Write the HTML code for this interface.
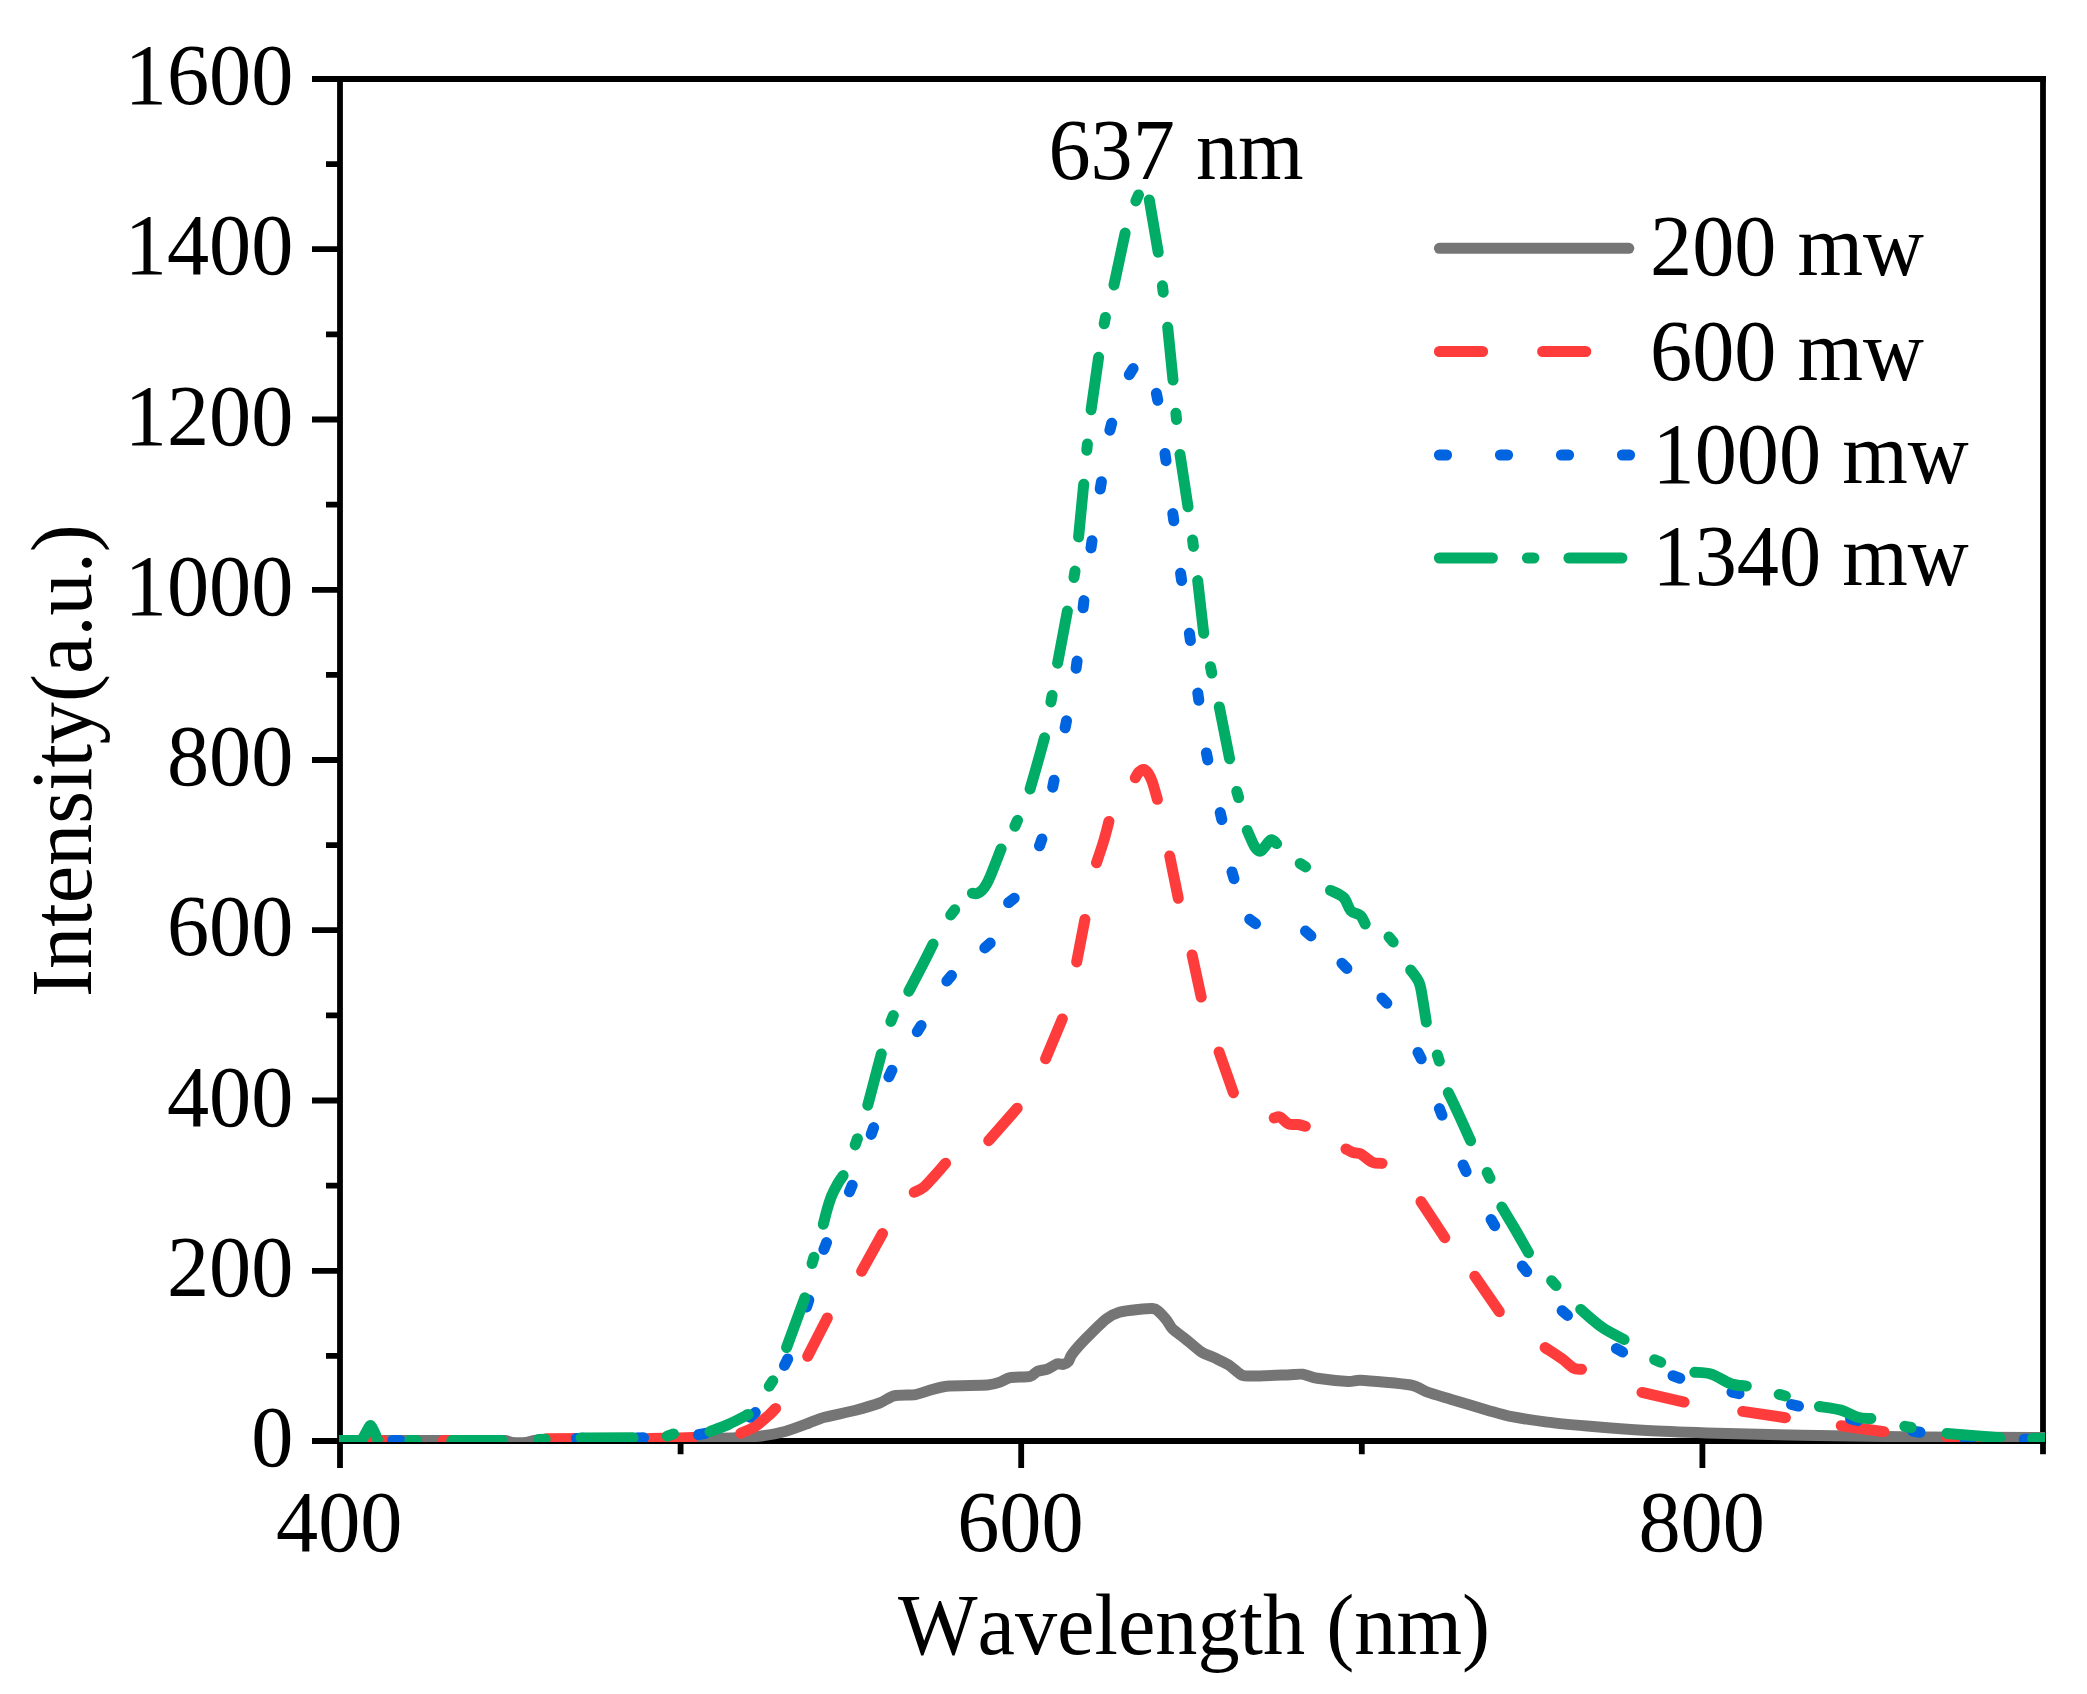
<!DOCTYPE html>
<html lang="en"><head><meta charset="utf-8"><title>PL spectra</title>
<style>html,body{margin:0;padding:0;background:#fff;overflow:hidden}svg{display:block}text{font-family:"Liberation Serif","Times New Roman",serif;font-size:84.30px;fill:#000;font-kerning:none;font-variant-ligatures:none}</style></head><body>
<svg width="2087" height="1694" viewBox="0 0 2087 1694">
<rect width="2087" height="1694" fill="#fff"/>
<defs><clipPath id="plot"><rect x="339" y="70" width="1706" height="1372"/></clipPath></defs>
<g stroke="#000" stroke-width="5.8" fill="none" stroke-linecap="butt">
<path d="M312.0 79.0 H2045.9"/>
<path d="M312.0 1441.0 H2045.9"/>
<path d="M340.0 76.1 V1468.0"/>
<path d="M2043.0 76.1 V1454.3"/>
<path d="M326.0 1355.9 H340.0 M312.0 1270.8 H340.0 M326.0 1185.6 H340.0 M312.0 1100.5 H340.0 M326.0 1015.4 H340.0 M312.0 930.2 H340.0 M326.0 845.1 H340.0 M312.0 760.0 H340.0 M326.0 674.9 H340.0 M312.0 589.8 H340.0 M326.0 504.6 H340.0 M312.0 419.5 H340.0 M326.0 334.4 H340.0 M312.0 249.2 H340.0 M326.0 164.1 H340.0 M680.6 1441.0 V1454.3 M1021.2 1441.0 V1468.0 M1361.8 1441.0 V1454.3 M1702.4 1441.0 V1468.0"/>
</g>
<g clip-path="url(#plot)" fill="none" stroke-width="11.0" stroke-linecap="round" stroke-linejoin="round">
<path stroke="#757575" d="M334.0 1440.6 C353.9 1440.6 484.2 1440.4 505.0 1440.6 C507.9 1440.6 509.6 1442.3 512.0 1442.5 C514.5 1442.7 523.4 1442.7 526.0 1442.5 C528.6 1442.3 531.4 1440.8 534.0 1440.5 C536.6 1440.2 542.4 1439.7 548.0 1439.6 C555.7 1439.4 582.3 1439.3 600.0 1439.2 C617.7 1439.1 686.0 1438.7 700.0 1438.6 C708.0 1438.5 715.3 1438.3 720.0 1438.2 C724.7 1438.1 735.2 1437.8 740.0 1437.5 C744.8 1437.2 755.8 1436.7 761.0 1436.0 C766.2 1435.3 779.4 1433.0 785.0 1431.5 C790.6 1430.0 804.4 1424.7 809.0 1423.0 C813.6 1421.3 819.1 1418.8 824.5 1417.3 C829.9 1415.8 849.2 1411.9 855.6 1410.2 C862.0 1408.5 875.1 1404.7 879.6 1403.0 C884.1 1401.3 889.8 1396.8 894.0 1395.8 C898.2 1394.8 911.6 1395.2 915.5 1394.6 C919.4 1394.0 923.9 1392.0 927.5 1391.0 C931.1 1390.0 939.7 1386.9 946.7 1386.2 C953.7 1385.5 981.2 1385.5 987.4 1385.0 C992.6 1384.6 997.4 1383.0 1000.0 1382.1 C1002.6 1381.2 1006.6 1378.4 1010.1 1377.7 C1013.6 1377.0 1027.0 1377.0 1030.2 1376.3 C1033.4 1375.6 1035.4 1372.1 1037.4 1371.3 C1039.4 1370.5 1045.1 1370.0 1047.4 1369.1 C1049.7 1368.2 1055.7 1364.3 1057.5 1363.8 C1059.3 1363.3 1061.9 1364.7 1063.2 1364.4 C1064.5 1364.1 1067.5 1362.7 1068.5 1361.5 C1069.5 1360.3 1070.0 1356.8 1071.9 1354.3 C1074.0 1351.6 1082.2 1342.3 1086.2 1338.2 C1090.2 1334.1 1102.5 1321.8 1106.4 1318.8 C1110.3 1315.8 1115.6 1313.4 1119.3 1312.3 C1123.0 1311.2 1134.1 1309.9 1138.0 1309.5 C1141.9 1309.1 1150.1 1308.3 1152.4 1308.5 C1154.7 1308.7 1156.4 1309.5 1158.1 1310.9 C1159.8 1312.3 1165.0 1318.1 1166.7 1320.2 C1168.4 1322.3 1170.3 1326.7 1172.5 1328.9 C1174.7 1331.1 1182.1 1336.2 1185.4 1338.9 C1188.7 1341.6 1197.7 1349.6 1201.2 1351.9 C1204.7 1354.2 1212.4 1356.8 1215.6 1358.3 C1218.8 1359.8 1225.6 1362.9 1228.6 1364.8 C1231.6 1366.7 1238.7 1373.6 1241.5 1374.9 C1244.3 1376.2 1248.4 1376.0 1253.0 1376.0 C1258.4 1376.0 1281.7 1375.1 1287.5 1374.9 C1293.3 1374.7 1299.4 1373.8 1302.9 1374.2 C1306.4 1374.6 1312.0 1377.5 1317.3 1378.3 C1322.6 1379.1 1343.4 1381.2 1348.4 1381.4 C1353.2 1381.6 1355.6 1379.9 1360.4 1380.2 C1367.7 1380.6 1402.9 1383.6 1410.7 1385.0 C1417.9 1386.3 1422.8 1390.5 1427.5 1392.2 C1432.2 1393.9 1444.4 1397.3 1451.4 1399.4 C1458.4 1401.5 1480.7 1408.3 1487.4 1410.2 C1494.1 1412.1 1502.0 1414.7 1509.0 1416.1 C1516.0 1417.5 1538.2 1420.9 1547.3 1422.1 C1556.4 1423.3 1575.4 1425.0 1587.0 1426.0 C1598.6 1427.0 1632.9 1429.7 1646.9 1430.5 C1660.9 1431.3 1688.6 1432.3 1706.8 1432.9 C1725.0 1433.5 1777.4 1434.8 1802.6 1435.3 C1827.8 1435.8 1893.5 1436.6 1922.4 1436.9 C1951.3 1437.2 2035.1 1437.5 2050.0 1437.6"/>
<path stroke="#FF3C3C" d="M340.0 1440.5 L383.2 1440.5 M443.2 1440.5 L486.4 1440.5 M546.4 1438.8 L589.6 1438.6 M649.6 1438.6 C653.0 1438.5 662.8 1438.4 670.0 1438.2 C677.2 1438.0 689.0 1437.5 692.8 1437.4 M740.8 1433.2 C743.1 1432.1 750.5 1429.4 755.0 1426.5 C759.5 1423.6 764.6 1419.0 768.0 1416.0 C771.2 1413.2 774.3 1409.7 775.6 1408.4 M807.7 1356.3 L827.3 1317.9 M861.6 1271.3 L882.5 1233.5 M914.2 1192.2 C915.8 1191.3 920.7 1190.0 924.0 1187.0 C929.2 1182.2 942.0 1167.2 945.6 1163.3 M988.7 1140.7 L1017.2 1108.2 M1045.6 1058.8 L1062.3 1018.9 M1076.7 961.9 L1084.9 919.4 M1096.5 862.8 C1097.6 859.3 1101.3 848.9 1103.4 842.0 C1105.5 835.1 1108.0 824.9 1108.9 821.4 M1135.3 777.8 C1135.9 776.8 1137.6 773.4 1139.0 772.0 C1140.4 770.6 1142.2 769.2 1143.7 769.4 C1145.2 769.6 1146.7 771.2 1148.0 773.0 C1149.4 775.0 1150.8 777.9 1152.1 781.4 C1153.7 785.8 1156.5 796.3 1157.4 799.3 M1169.7 856.0 L1178.3 898.3 M1192.1 954.9 L1201.2 997.1 M1219.1 1052.0 L1233.4 1092.7 M1274.2 1117.9 C1275.2 1117.8 1277.8 1116.1 1280.0 1117.0 C1282.4 1118.0 1285.5 1122.7 1288.5 1123.9 C1291.5 1125.2 1295.2 1124.1 1298.0 1124.5 C1300.8 1124.9 1304.1 1126.0 1305.3 1126.3 M1346.0 1149.0 C1347.2 1149.6 1350.6 1151.7 1353.0 1152.5 C1355.4 1153.3 1357.7 1152.5 1360.4 1153.8 C1363.6 1155.4 1368.8 1160.6 1372.4 1162.2 C1375.9 1163.8 1380.4 1163.2 1382.0 1163.4 M1421.0 1201.6 L1444.8 1237.7 M1474.8 1276.2 L1499.3 1311.7 M1545.1 1347.6 C1547.9 1349.5 1556.9 1355.2 1561.7 1358.6 C1566.5 1362.0 1570.3 1366.4 1573.6 1368.2 C1576.4 1369.7 1580.2 1369.0 1581.5 1369.2 M1642.0 1392.4 L1684.1 1402.1 M1742.7 1411.4 L1785.4 1417.7 M1841.2 1425.7 L1883.9 1431.7 M1946.7 1436.7 L1989.9 1438.8"/>
<path stroke="#0064E1" d="M339.9 1440.5 L347.1 1440.5 M392.9 1440.5 L400.1 1440.5 M453.4 1440.5 L460.6 1440.5 M576.4 1438.4 L583.6 1438.2 M636.4 1437.9 L643.6 1437.7 M698.5 1434.7 L705.5 1433.3 M749.9 1417.2 L755.3 1412.6 M784.5 1365.4 L787.7 1359.0 M806.6 1306.9 L808.8 1300.1 M823.9 1249.4 L826.5 1242.6 M849.4 1191.8 L852.2 1185.2 M871.2 1134.4 L873.6 1127.6 M888.9 1076.8 L891.9 1070.2 M917.3 1031.7 L921.1 1025.5 M946.9 981.1 L951.5 975.5 M984.8 947.9 L990.2 943.1 M1008.6 902.6 L1014.2 898.2 M1039.5 845.8 L1041.9 839.0 M1052.7 787.2 L1054.1 780.2 M1065.1 727.8 L1066.5 720.8 M1076.1 668.3 L1077.1 661.1 M1083.1 607.8 L1083.9 600.6 M1091.0 547.9 L1092.0 540.7 M1100.2 489.0 L1101.4 481.8 M1109.9 430.2 L1111.7 423.2 M1129.3 374.7 L1133.1 368.5 M1156.4 393.3 L1157.8 400.3 M1165.0 453.5 L1166.0 460.7 M1172.8 513.6 L1173.8 520.8 M1180.6 573.3 L1181.6 580.5 M1189.4 633.3 L1190.4 640.5 M1197.8 693.1 L1198.8 700.3 M1206.4 752.9 L1207.8 759.9 M1220.2 812.6 L1221.8 819.6 M1232.0 871.9 L1234.0 878.7 M1249.7 919.3 L1255.5 923.7 M1305.5 931.1 L1310.9 935.9 M1341.9 963.2 L1346.9 968.4 M1381.9 998.0 L1386.9 1003.2 M1418.0 1052.4 L1421.2 1058.8 M1439.4 1108.6 L1442.0 1115.2 M1463.1 1164.9 L1466.1 1171.5 M1491.1 1219.5 L1494.7 1225.7 M1522.3 1266.0 L1526.7 1271.6 M1562.1 1310.8 L1567.5 1315.4 M1616.4 1348.5 L1622.6 1352.1 M1673.0 1375.8 L1679.8 1378.2 M1732.0 1392.1 L1739.0 1393.7 M1791.5 1404.5 L1798.5 1406.1 M1850.6 1418.9 L1857.6 1420.5 M1912.8 1431.1 L1920.0 1432.3 M1964.4 1437.8 L1971.6 1438.2 M2024.2 1439.2 L2031.4 1439.4"/>
<path stroke="#00AC66" d="M334.0 1440.5 C337.9 1440.5 352.8 1440.7 357.5 1440.5 C359.4 1440.4 360.6 1440.6 362.0 1439.3 C363.4 1437.9 365.0 1434.3 366.2 1432.3 C367.4 1430.3 368.3 1428.3 369.0 1427.2 C369.5 1426.5 369.9 1425.6 370.4 1425.6 C370.9 1425.6 371.4 1426.5 371.8 1427.2 C372.5 1428.3 373.5 1430.3 374.4 1432.3 C375.3 1434.3 376.9 1438.1 377.4 1439.3 M409.8 1440.4 L416.2 1440.6 M451.8 1440.6 L502.3 1440.6 M538.8 1439.5 L545.2 1439.3 M581.1 1437.9 L633.1 1437.7 M667.3 1436.1 L673.5 1433.9 M710.0 1431.5 C713.0 1430.3 721.7 1427.4 728.0 1424.6 C734.3 1421.8 744.7 1416.2 748.0 1414.5 M769.2 1386.2 L772.8 1380.8 M786.6 1347.5 L804.8 1297.8 M812.1 1263.5 L813.9 1257.3 M823.3 1224.3 C824.0 1221.9 825.6 1214.8 827.0 1210.0 C828.4 1205.2 829.9 1200.1 831.7 1195.7 C833.5 1191.3 835.8 1187.1 837.7 1183.7 C839.6 1180.3 842.2 1176.9 843.1 1175.6 M855.2 1144.9 L857.4 1138.7 M867.8 1105.2 L881.3 1053.9 M890.9 1021.5 L893.3 1015.5 M908.8 991.2 C911.0 987.0 918.1 973.7 922.1 965.8 C926.1 957.9 931.2 947.7 933.0 944.1 M950.7 915.0 L954.7 909.8 M972.4 893.2 C973.2 893.2 975.6 894.0 977.2 893.5 C978.8 893.0 980.5 891.9 982.0 890.4 C983.5 888.9 984.9 886.8 986.3 884.4 C987.7 882.0 989.0 879.5 990.4 876.0 C992.9 870.1 999.3 853.4 1001.1 848.9 M1014.9 826.3 L1017.5 820.3 M1030.1 788.9 C1031.3 784.8 1034.7 773.1 1037.1 764.6 C1039.5 756.1 1043.2 742.3 1044.5 737.8 M1050.9 701.9 L1052.1 695.5 M1057.6 663.2 L1067.4 611.1 M1074.0 577.5 L1075.0 571.1 M1078.6 536.9 L1083.7 484.2 M1086.8 450.3 L1087.4 443.9 M1091.1 409.8 L1098.6 357.3 M1104.2 323.8 L1105.4 317.4 M1114.0 285.0 L1125.1 233.1 M1135.9 200.9 L1138.5 194.9 M1149.3 199.9 L1158.2 252.2 M1162.4 285.8 L1163.2 292.2 M1167.7 327.3 L1173.0 380.0 M1175.9 413.2 L1176.5 419.6 M1180.0 454.5 L1188.0 506.8 M1192.6 540.0 L1193.4 546.4 M1197.7 580.6 L1203.7 633.3 M1210.5 666.7 L1211.7 673.1 M1219.3 706.9 L1229.6 758.8 M1236.8 791.4 L1238.6 797.6 M1247.3 830.5 C1248.6 833.3 1252.7 843.8 1255.0 847.2 C1256.6 849.5 1258.5 852.0 1261.0 850.8 C1263.6 849.6 1268.0 841.2 1270.6 840.0 C1273.1 838.8 1275.6 843.0 1276.6 843.6 M1300.2 863.5 L1305.6 866.9 M1330.5 890.4 C1332.7 891.6 1340.2 894.1 1343.6 897.5 C1347.0 900.9 1348.0 907.7 1350.8 910.7 C1353.6 913.7 1358.0 913.3 1360.4 915.5 C1362.8 917.7 1364.4 922.5 1365.2 923.9 M1389.0 937.0 L1393.2 942.0 M1410.7 970.1 C1412.1 972.2 1417.1 977.7 1419.1 982.6 C1421.1 987.5 1421.5 992.8 1422.7 999.4 C1423.9 1006.0 1425.7 1018.3 1426.3 1022.1 M1437.3 1054.9 L1439.3 1061.1 M1448.3 1092.6 C1450.0 1096.2 1454.9 1106.3 1458.6 1114.3 C1462.3 1122.3 1468.6 1136.3 1470.6 1140.7 M1487.2 1172.5 L1490.0 1178.3 M1501.8 1207.0 C1503.8 1210.3 1509.2 1219.3 1513.7 1226.9 C1518.2 1234.5 1526.0 1248.4 1528.5 1252.7 M1551.6 1280.8 L1556.0 1285.6 M1580.7 1309.4 C1584.3 1312.5 1595.2 1322.5 1602.4 1327.5 C1609.6 1332.5 1620.5 1337.5 1624.1 1339.5 M1654.7 1359.7 L1660.7 1362.3 M1694.8 1372.2 C1697.6 1372.5 1705.6 1372.3 1711.6 1374.2 C1717.6 1376.1 1724.9 1381.7 1730.7 1383.7 C1736.5 1385.7 1743.7 1385.7 1746.3 1386.1 M1779.2 1394.4 L1785.4 1396.0 M1819.4 1406.5 C1823.0 1407.1 1834.6 1408.3 1841.0 1410.1 C1847.4 1411.9 1852.7 1415.9 1857.7 1417.3 C1862.7 1418.7 1868.7 1418.3 1870.9 1418.5 M1904.8 1426.3 L1911.2 1427.5 M1946.9 1433.5 L1999.8 1437.7 M2032.6 1438.4 L2050.0 1438.5"/>
</g>
<text transform="translate(293.4 1466.0) scale(1 1.034)" text-anchor="end">0</text>
<text transform="translate(293.4 1295.8) scale(1 1.034)" text-anchor="end">200</text>
<text transform="translate(293.4 1125.5) scale(1 1.034)" text-anchor="end">400</text>
<text transform="translate(293.4 955.2) scale(1 1.034)" text-anchor="end">600</text>
<text transform="translate(293.4 785.0) scale(1 1.034)" text-anchor="end">800</text>
<text transform="translate(293.4 614.8) scale(1 1.034)" text-anchor="end">1000</text>
<text transform="translate(293.4 444.5) scale(1 1.034)" text-anchor="end">1200</text>
<text transform="translate(293.4 274.2) scale(1 1.034)" text-anchor="end">1400</text>
<text transform="translate(293.4 104.0) scale(1 1.034)" text-anchor="end">1600</text>
<text transform="translate(339.2 1551.0) scale(1 1.034)" text-anchor="middle">400</text>
<text transform="translate(1020.4 1551.0) scale(1 1.034)" text-anchor="middle">600</text>
<text transform="translate(1701.6 1551.0) scale(1 1.034)" text-anchor="middle">800</text>
<text transform="translate(1194.0 1654.0) scale(1 1.034)" text-anchor="middle">Wavelength (nm)</text>
<text transform="translate(90.9 760.6) rotate(-90) scale(1 1.034)" text-anchor="middle">Intensity(a.u.)</text>
<text transform="translate(1176.0 179.4) scale(1 1.034)" text-anchor="middle">637 nm</text>
<g fill="none" stroke-width="11.0" stroke-linecap="round">
<path stroke="#757575" d="M1439.4 248.3 H1628.8"/>
<path stroke="#FF3C3C" d="M1439.4 351.5 h43.2 m60 0 h43.2"/>
<path stroke="#0064E1" d="M1439.4 455 h7.2 m53.8 0 h7.2 m53.8 0 h7.2 m53.8 0 h7.2"/>
<path stroke="#00AC66" d="M1439.4 558 h53 m35 0 h6.5 m35 0 h53"/>
</g>
<text transform="translate(1650.0 275.3) scale(1 1.034)">200 mw</text>
<text transform="translate(1650.0 380.3) scale(1 1.034)">600 mw</text>
<text transform="translate(1652.5 483.2) scale(1 1.034)">1000 mw</text>
<text transform="translate(1652.5 585.3) scale(1 1.034)">1340 mw</text>
</svg></body></html>
